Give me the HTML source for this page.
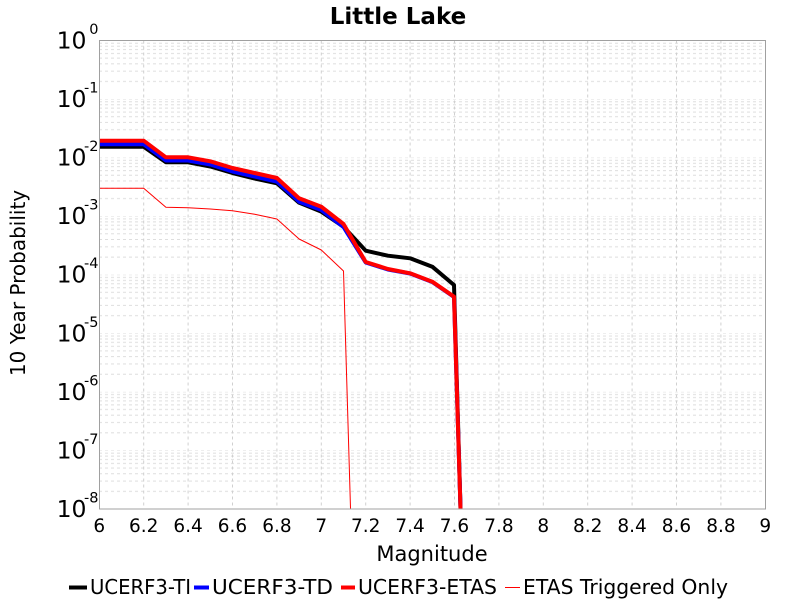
<!DOCTYPE html>
<html>
<head>
<meta charset="utf-8">
<style>
  html,body{margin:0;padding:0;background:#fff;}
  svg{display:block;}
  text{font-family:"DejaVu Sans","Liberation Sans",sans-serif;fill:#000;}
</style>
</head>
<body>
<svg width="800" height="600" viewBox="0 0 800 600" xmlns="http://www.w3.org/2000/svg">
  <defs>
    <clipPath id="plot">
      <rect x="99.5" y="40.5" width="666" height="468.5"/>
    </clipPath>
    <pattern id="hgrid" patternUnits="userSpaceOnUse" x="0" y="40.5" width="800" height="58.56">
      <g stroke="#dedede" stroke-width="1" stroke-dasharray="3,3" fill="none">
        <line x1="99" x2="766" y1="0" y2="0"/>
        <line x1="99" x2="766" y1="2.68" y2="2.68"/>
        <line x1="99" x2="766" y1="5.68" y2="5.68"/>
        <line x1="99" x2="766" y1="9.07" y2="9.07"/>
        <line x1="99" x2="766" y1="12.99" y2="12.99"/>
        <line x1="99" x2="766" y1="17.63" y2="17.63"/>
        <line x1="99" x2="766" y1="23.30" y2="23.30"/>
        <line x1="99" x2="766" y1="30.62" y2="30.62"/>
        <line x1="99" x2="766" y1="40.93" y2="40.93"/>
      </g>
    </pattern>
  </defs>

  <rect x="0" y="0" width="800" height="600" fill="#fff"/>

  <!-- Title -->
  <text x="398" y="24" font-size="23" font-weight="bold" text-anchor="middle">Little Lake</text>

  <!-- horizontal grid -->
  <rect x="99.5" y="40.5" width="666" height="468.5" fill="url(#hgrid)"/>

  <!-- vertical grid -->
  <g stroke="#d0d0d0" stroke-width="1" stroke-dasharray="3,3">
    <line x1="143.7" x2="143.7" y1="40.5" y2="509"/>
    <line x1="188.1" x2="188.1" y1="40.5" y2="509"/>
    <line x1="232.5" x2="232.5" y1="40.5" y2="509"/>
    <line x1="276.9" x2="276.9" y1="40.5" y2="509"/>
    <line x1="321.3" x2="321.3" y1="40.5" y2="509"/>
    <line x1="365.7" x2="365.7" y1="40.5" y2="509"/>
    <line x1="410.1" x2="410.1" y1="40.5" y2="509"/>
    <line x1="454.5" x2="454.5" y1="40.5" y2="509"/>
    <line x1="498.9" x2="498.9" y1="40.5" y2="509"/>
    <line x1="543.3" x2="543.3" y1="40.5" y2="509"/>
    <line x1="587.7" x2="587.7" y1="40.5" y2="509"/>
    <line x1="632.1" x2="632.1" y1="40.5" y2="509"/>
    <line x1="676.5" x2="676.5" y1="40.5" y2="509"/>
    <line x1="720.9" x2="720.9" y1="40.5" y2="509"/>
  </g>

  <!-- series -->
  <g clip-path="url(#plot)" fill="none" stroke-linejoin="round">
    <polyline stroke="#000" stroke-width="4" points="99.3,146.7 143.7,146.7 165.9,162.3 188.1,162.3 210.3,166.5 232.5,173 254.7,178.5 276.9,183.3 299.1,202.7 321.3,211.7 343.5,226.7 365.7,250.7 387.9,255.7 410.1,258.3 432.3,266.7 454,285 461,525"/>
    <polyline stroke="#0000ff" stroke-width="4" points="99.3,144.3 143.7,144.3 165.9,160.5 188.1,160.5 210.3,164.5 232.5,171.5 254.7,176.5 276.9,181.7 299.1,201.7 321.3,210 343.5,227 365.7,262.5 387.9,269.5 410.1,273.5 432.3,282 454,297 461,525"/>
    <polyline stroke="#ff0000" stroke-width="4" points="99.3,140.7 143.7,140.7 165.9,157.3 188.1,157.3 210.3,161.3 232.5,168 254.7,173 276.9,178 299.1,198.3 321.3,206.7 343.5,224 365.7,262 387.9,269 410.1,273.3 432.3,281.7 454,296.7 461,525"/>
    <polyline stroke="#ff0000" stroke-width="1" points="99.3,188.3 143.7,188.3 165.9,207.3 188.1,207.7 210.3,209 232.5,210.7 254.7,214.3 276.9,219 299.1,239 321.3,250 343.5,271 351,525"/>
  </g>

  <!-- plot border -->
  <rect x="99.5" y="40.5" width="666" height="468.5" fill="none" stroke="#a0a0a0" stroke-width="1"/>

  <!-- Y tick labels -->
  <g font-size="23.5" text-anchor="end">
    <text x="86.5" y="48.5">10</text>
    <text x="86.5" y="107.1">10</text>
    <text x="86.5" y="165.6">10</text>
    <text x="86.5" y="224.2">10</text>
    <text x="86.5" y="282.7">10</text>
    <text x="86.5" y="341.3">10</text>
    <text x="86.5" y="399.9">10</text>
    <text x="86.5" y="458.4">10</text>
    <text x="86.5" y="517">10</text>
  </g>
  <g font-size="14.5" text-anchor="end">
    <text x="98.5" y="34">0</text>
    <text x="98.5" y="92.6">-1</text>
    <text x="98.5" y="151.1">-2</text>
    <text x="98.5" y="209.7">-3</text>
    <text x="98.5" y="268.2">-4</text>
    <text x="98.5" y="326.8">-5</text>
    <text x="98.5" y="385.4">-6</text>
    <text x="98.5" y="443.9">-7</text>
    <text x="98.5" y="502.5">-8</text>
  </g>

  <!-- X tick labels -->
  <g font-size="18.5" text-anchor="middle">
    <text x="99.3" y="532">6</text>
    <text x="143.7" y="532">6.2</text>
    <text x="188.1" y="532">6.4</text>
    <text x="232.5" y="532">6.6</text>
    <text x="276.9" y="532">6.8</text>
    <text x="321.3" y="532">7</text>
    <text x="365.7" y="532">7.2</text>
    <text x="410.1" y="532">7.4</text>
    <text x="454.5" y="532">7.6</text>
    <text x="498.9" y="532">7.8</text>
    <text x="543.3" y="532">8</text>
    <text x="587.7" y="532">8.2</text>
    <text x="632.1" y="532">8.4</text>
    <text x="676.5" y="532">8.6</text>
    <text x="720.9" y="532">8.8</text>
    <text x="765.3" y="532">9</text>
  </g>

  <!-- Axis labels -->
  <text x="432" y="561" font-size="21" text-anchor="middle">Magnitude</text>
  <text x="0" y="0" font-size="20" text-anchor="middle" transform="translate(25,283) rotate(-90)">10 Year Probability</text>

  <!-- Legend -->
  <g font-size="20.5">
    <line x1="69" x2="87" y1="587.5" y2="587.5" stroke="#000" stroke-width="4"/>
    <text x="90" y="594" textLength="101" lengthAdjust="spacingAndGlyphs">UCERF3-TI</text>
    <line x1="194" x2="209" y1="587.5" y2="587.5" stroke="#0000ff" stroke-width="4"/>
    <text x="212" y="594" textLength="121" lengthAdjust="spacingAndGlyphs">UCERF3-TD</text>
    <line x1="341" x2="355" y1="587.5" y2="587.5" stroke="#ff0000" stroke-width="4"/>
    <text x="358" y="594" textLength="139" lengthAdjust="spacingAndGlyphs">UCERF3-ETAS</text>
    <line x1="505" x2="520" y1="587.5" y2="587.5" stroke="#ff0000" stroke-width="1"/>
    <text x="523" y="594" textLength="205" lengthAdjust="spacingAndGlyphs">ETAS Triggered Only</text>
  </g>
</svg>
</body>
</html>
